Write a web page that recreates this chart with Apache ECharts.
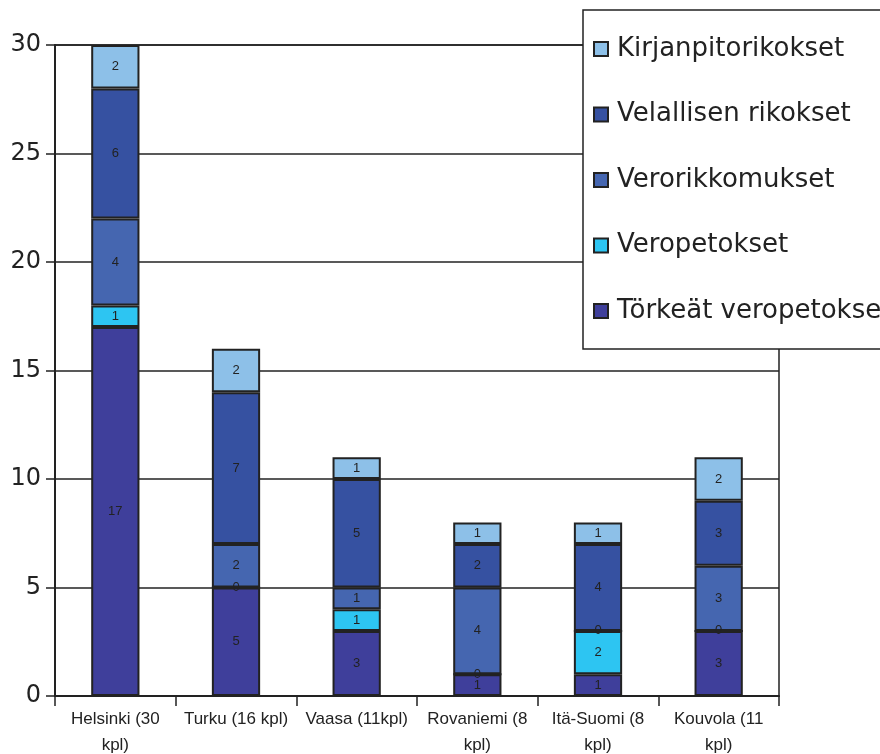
<!DOCTYPE html>
<html>
<head>
<meta charset="utf-8">
<script src="https://cdn.jsdelivr.net/npm/echarts@6/dist/echarts.min.js"></script>
<style>
  html, body { margin: 0; padding: 0; background: #fff; }
  #chart { width: 880px; height: 754px; }
</style>
</head>
<body>
<div id="chart"></div>
<script>
// kategoriat (paikkakunnat)
const categories = ['Helsinki (30\nkpl)', 'Turku (16 kpl)', 'Vaasa (11kpl)', 'Rovaniemi (8\nkpl)', 'Itä-Suomi (8\nkpl)', 'Kouvola (11\nkpl)'];

// sarjat alhaalta ylös
const torkeatVeropetokset = [17, 5, 3, 1, 1, 3];
const veropetokset = [1, 0, 1, 0, 2, 0];
const verorikkomukset = [4, 2, 1, 4, 0, 3];
const velallisenRikokset = [6, 7, 5, 2, 4, 3];
const kirjanpitorikokset = [2, 2, 1, 1, 1, 2];

const yTicks = [0, 5, 10, 15, 20, 25, 30];

const seriesDefs = [
  { name: 'Törkeät veropetokset', data: torkeatVeropetokset, color: '#3f3f9b' },
  { name: 'Veropetokset', data: veropetokset, color: '#2dc5f2' },
  { name: 'Verorikkomukset', data: verorikkomukset, color: '#4566b0' },
  { name: 'Velallisen rikokset', data: velallisenRikokset, color: '#3651a1' },
  { name: 'Kirjanpitorikokset', data: kirjanpitorikokset, color: '#8dc0e8' }
];

const chart = echarts.init(document.getElementById('chart'));

const option = {
  animation: false,
  grid: {
    left: 55, right: 101, top: 45, bottom: 58,
    outerBoundsMode: 'none',
    containLabel: false,
    show: true, borderColor: '#222', borderWidth: 1.5
  },
  legend: {
    orient: 'vertical',
    left: 583, top: 10,
    padding: [26, 20, 25, 10],
    itemGap: 39.5,
    itemWidth: 14, itemHeight: 14,
    icon: 'rect',
    backgroundColor: '#fff',
    borderColor: '#222', borderWidth: 1.5,
    textStyle: { fontFamily: 'DejaVu Sans', fontSize: 26, color: '#222', padding: [0, 0, 0, 4] },
    data: seriesDefs.map(s => s.name).reverse()
  },
  xAxis: {
    type: 'category',
    data: categories,
    axisLine: { lineStyle: { color: '#222', width: 2 } },
    axisTick: { show: true, length: 10, lineStyle: { color: '#222', width: 1.5 } },
    axisLabel: {
      interval: 0, margin: 10,
      fontFamily: 'Liberation Sans', fontSize: 17, color: '#222', lineHeight: 26
    }
  },
  yAxis: {
    type: 'value',
    min: yTicks[0], max: yTicks[yTicks.length - 1], interval: 5,
    axisLine: { show: true, lineStyle: { color: '#222', width: 2 } },
    axisTick: { show: true, length: 9, lineStyle: { color: '#222', width: 1.5 } },
    axisLabel: { margin: 14, fontFamily: 'DejaVu Sans', fontSize: 24, color: '#222' },
    splitLine: { lineStyle: { color: '#222', width: 1.5 } }
  },
  series: seriesDefs.map(s => ({
    name: s.name,
    type: 'bar',
    stack: 'total',
    barWidth: '40%',
    data: s.data,
    itemStyle: { color: s.color, borderColor: '#222', borderWidth: 2 },
    label: {
      show: true, position: 'inside',
      fontFamily: 'Liberation Sans', fontSize: 13, color: '#222'
    }
  }))
};

chart.setOption(option);
</script>
</body>
</html>
